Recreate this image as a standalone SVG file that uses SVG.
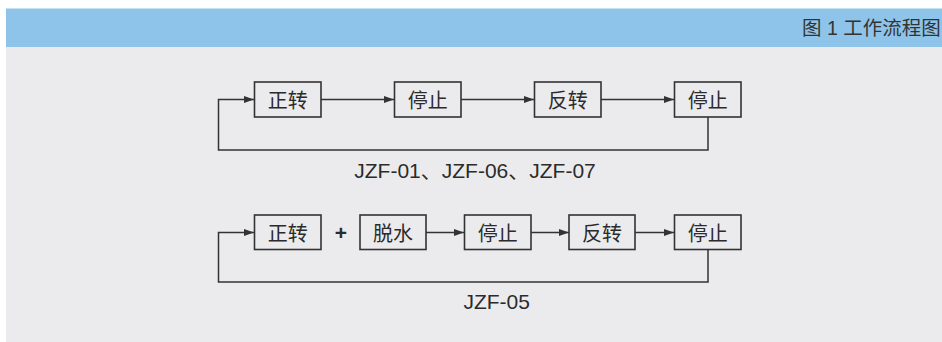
<svg xmlns="http://www.w3.org/2000/svg" width="942" height="342" viewBox="0 0 942 342">
<defs>
<style>
.box{fill:none;stroke:#333;stroke-width:1.6}
.ln{fill:none;stroke:#333;stroke-width:1.5}
.cj{font-family:"Noto Sans CJK SC","Liberation Sans",sans-serif;font-size:20px;fill:#2b2b2b;text-anchor:middle;dominant-baseline:central}
.lb{font-family:"Liberation Sans","Noto Sans CJK SC",sans-serif;font-size:21px;fill:#2b2b2b;text-anchor:middle}
.hd{font-family:"Liberation Sans","Noto Sans CJK SC",sans-serif;font-size:19.5px;fill:#333;dominant-baseline:central}
</style>
<marker id="ah" markerUnits="userSpaceOnUse" markerWidth="11" markerHeight="8" refX="10" refY="3.5" orient="auto">
<path d="M0,0 L10,3.5 L0,7 z" fill="#333"/>
</marker>
</defs>
<rect x="0" y="0" width="942" height="342" fill="#ffffff"/>
<rect x="6" y="47" width="936" height="295" fill="#ebebee"/>
<rect x="6" y="8.5" width="936" height="38.5" fill="#8fc4ea"/>
<text class="hd" x="802" y="28" xml:space="preserve">图 1 工作流程图</text>

<g id="connectors">
<line class="ln" x1="321" y1="99.5" x2="394" y2="99.5" marker-end="url(#ah)"/>
<line class="ln" x1="461" y1="99.5" x2="534" y2="99.5" marker-end="url(#ah)"/>
<line class="ln" x1="601" y1="99.5" x2="674" y2="99.5" marker-end="url(#ah)"/>
<path class="ln" d="M708,117 V150 H218.5 V99.5 H254" marker-end="url(#ah)"/>
<line class="ln" x1="426" y1="232.5" x2="464" y2="232.5" marker-end="url(#ah)"/>
<line class="ln" x1="531" y1="232.5" x2="569" y2="232.5" marker-end="url(#ah)"/>
<line class="ln" x1="635" y1="232.5" x2="674" y2="232.5" marker-end="url(#ah)"/>
<path class="ln" d="M708,249.5 V282 H218.5 V232.5 H254" marker-end="url(#ah)"/>
</g>

<g id="r1n1"><rect class="box" x="254.5" y="82" width="66.5" height="35"/><text class="cj" x="287.7" y="99.5">正转</text></g>
<g id="r1n2"><rect class="box" x="394.5" y="82" width="66.5" height="35"/><text class="cj" x="427.7" y="99.5">停止</text></g>
<g id="r1n3"><rect class="box" x="534.5" y="82" width="66.5" height="35"/><text class="cj" x="567.7" y="99.5">反转</text></g>
<g id="r1n4"><rect class="box" x="674.5" y="82" width="66.5" height="35"/><text class="cj" x="707.7" y="99.5">停止</text></g>
<text class="lb" x="475" y="177.5">JZF-01、JZF-06、JZF-07</text>

<g id="r2n1"><rect class="box" x="254.5" y="215" width="66.5" height="34.5"/><text class="cj" x="287.7" y="232.5">正转</text></g>
<text class="lb" x="341" y="239.5" style="font-size:21px;font-weight:bold">+</text>
<g id="r2n2"><rect class="box" x="360" y="215" width="66" height="34.5"/><text class="cj" x="393" y="232.5">脱水</text></g>
<g id="r2n3"><rect class="box" x="464.5" y="215" width="66.5" height="34.5"/><text class="cj" x="497.7" y="232.5">停止</text></g>
<g id="r2n4"><rect class="box" x="569" y="215" width="66" height="34.5"/><text class="cj" x="602" y="232.5">反转</text></g>
<g id="r2n5"><rect class="box" x="674.5" y="215" width="66.5" height="34.5"/><text class="cj" x="707.7" y="232.5">停止</text></g>
<text class="lb" x="496.7" y="308.5">JZF-05</text>
</svg>
